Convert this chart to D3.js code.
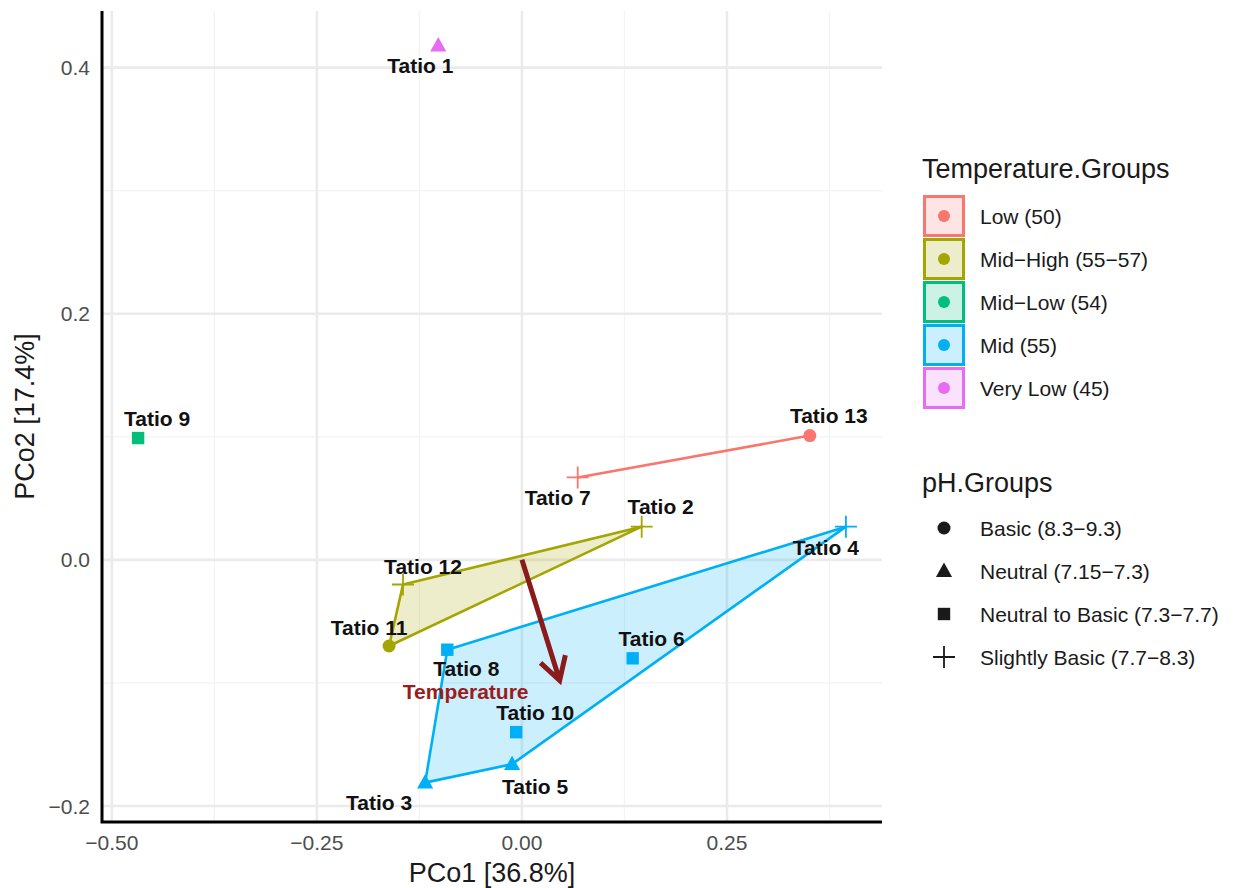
<!DOCTYPE html>
<html>
<head>
<meta charset="utf-8">
<script src="https://cdn.jsdelivr.net/npm/d3@7"></script>
<style>
  body { margin: 0; background: #fff; }
  text { font-family: "Liberation Sans", Arial, sans-serif; }
</style>
</head>
<body>
<svg id="chart" width="1254" height="888"></svg>
<script>
// PCoA site scores
const sites = ["Tatio 1", "Tatio 9", "Tatio 13", "Tatio 7", "Tatio 2", "Tatio 4", "Tatio 12",
               "Tatio 11", "Tatio 8", "Tatio 6", "Tatio 10", "Tatio 5", "Tatio 3"];
const pco1 = [-0.102, -0.468, 0.351, 0.068, 0.146, 0.395, -0.145,
              -0.162, -0.091, 0.135, -0.007, -0.012, -0.118];
const pco2 = [0.418, 0.099, 0.101, 0.067, 0.027, 0.027, -0.020,
              -0.070, -0.073, -0.080, -0.140, -0.166, -0.181];
const tempGroup = ["Very Low (45)", "Mid−Low (54)", "Low (50)", "Low (50)", "Mid−High (55−57)", "Mid (55)",
                   "Mid−High (55−57)", "Mid−High (55−57)", "Mid (55)", "Mid (55)", "Mid (55)", "Mid (55)", "Mid (55)"];
const phGroup = ["Neutral (7.15−7.3)", "Neutral to Basic (7.3−7.7)", "Basic (8.3−9.3)", "Slightly Basic (7.7−8.3)",
                 "Slightly Basic (7.7−8.3)", "Slightly Basic (7.7−8.3)", "Slightly Basic (7.7−8.3)",
                 "Basic (8.3−9.3)", "Neutral to Basic (7.3−7.7)", "Neutral to Basic (7.3−7.7)",
                 "Neutral to Basic (7.3−7.7)", "Neutral (7.15−7.3)", "Neutral (7.15−7.3)"];

const tempLevels = ["Low (50)", "Mid−High (55−57)", "Mid−Low (54)", "Mid (55)", "Very Low (45)"];
const phLevels = ["Basic (8.3−9.3)", "Neutral (7.15−7.3)", "Neutral to Basic (7.3−7.7)", "Slightly Basic (7.7−8.3)"];

// fitted environmental vector
const vectorNames = ["Temperature"];
const vectorX = [0.046];
const vectorY = [-0.098];

const xTicks = [-0.5, -0.25, 0, 0.25];
const yTicks = [-0.2, 0, 0.2, 0.4];
const xTitle = "PCo1 [36.8%]";
const yTitle = "PCo2 [17.4%]";

// label placement (repelled offsets, px)
const labelDx = [-18, 19, 19, -20, 19, -20, 20, -20, 19, 19, 19, 23, -46];
const labelDy = [20, -20, -20, 20, -20, 21, -18, -19, 18.5, -20, -20, 22, 20];

const palette = ["#F8766D", "#A3A500", "#00BF7D", "#00B0F6", "#E76BF3"];
const color = d3.scaleOrdinal().domain(tempLevels).range(palette);
const shapeOf = d3.scaleOrdinal().domain(phLevels).range(["circle", "triangle", "square", "plus"]);

const svg = d3.select("#chart");
const panel = { left: 102, right: 882, top: 11, bottom: 822 };
const x = d3.scaleLinear().domain([-0.512, 0.439]).range([panel.left, panel.right]);
const y = d3.scaleLinear().domain([-0.213, 0.446]).range([panel.bottom, panel.top]);

const fmtX = v => d3.format(".2f")(v).replace("-", "−");
const fmtY = v => d3.format(".1f")(v).replace("-", "−");

// grid
const g = svg.append("g");
const minorX = xTicks.map(t => t + 0.125).concat([xTicks[0] - 0.125]).filter(v => v > x.domain()[0] && v < x.domain()[1]);
const minorY = yTicks.map(t => t + 0.1).filter(v => v > y.domain()[0] && v < y.domain()[1]);
g.selectAll(".mx").data(minorX).join("line")
  .attr("x1", d => x(d)).attr("x2", d => x(d)).attr("y1", panel.top).attr("y2", panel.bottom)
  .attr("stroke", "#F3F3F3").attr("stroke-width", 1.3);
g.selectAll(".my").data(minorY).join("line")
  .attr("y1", d => y(d)).attr("y2", d => y(d)).attr("x1", panel.left).attr("x2", panel.right)
  .attr("stroke", "#F3F3F3").attr("stroke-width", 1.3);
g.selectAll(".Mx").data(xTicks).join("line")
  .attr("x1", d => x(d)).attr("x2", d => x(d)).attr("y1", panel.top).attr("y2", panel.bottom)
  .attr("stroke", "#EBEBEB").attr("stroke-width", 2.6);
g.selectAll(".My").data(yTicks).join("line")
  .attr("y1", d => y(d)).attr("y2", d => y(d)).attr("x1", panel.left).attr("x2", panel.right)
  .attr("stroke", "#EBEBEB").attr("stroke-width", 2.6);

// tick labels
svg.append("g").selectAll("text").data(xTicks).join("text")
  .attr("x", d => x(d)).attr("y", 850).attr("text-anchor", "middle")
  .attr("font-size", 21).attr("fill", "#4D4D4D").text(fmtX);
svg.append("g").selectAll("text").data(yTicks).join("text")
  .attr("x", 90).attr("y", d => y(d) + 7.5).attr("text-anchor", "end")
  .attr("font-size", 21).attr("fill", "#4D4D4D").text(fmtY);

// axis titles
svg.append("text").attr("x", (panel.left + panel.right) / 2).attr("y", 882)
  .attr("text-anchor", "middle").attr("font-size", 27).attr("fill", "#1a1a1a").text(xTitle);
svg.append("text").attr("transform", `translate(34,${(panel.top + panel.bottom) / 2}) rotate(-90)`)
  .attr("text-anchor", "middle").attr("font-size", 27).attr("fill", "#1a1a1a").text(yTitle);

// data records
const pts = sites.map((s, i) => ({
  name: s, x: pco1[i], y: pco2[i], temp: tempGroup[i], ph: phGroup[i],
  dx: labelDx[i], dy: labelDy[i]
}));

// group hulls
const hullG = svg.append("g");
tempLevels.forEach(level => {
  const ps = pts.filter(p => p.temp === level).map(p => [x(p.x), y(p.y)]);
  if (ps.length >= 3) {
    const hull = d3.polygonHull(ps);
    hullG.append("path").attr("d", "M" + hull.join("L") + "Z")
      .attr("fill", color(level)).attr("fill-opacity", 0.2)
      .attr("stroke", color(level)).attr("stroke-width", 2.6).attr("stroke-linejoin", "round");
  } else if (ps.length === 2) {
    hullG.append("path").attr("d", "M" + ps.join("L"))
      .attr("fill", "none").attr("stroke", color(level)).attr("stroke-width", 2.6);
  }
});

// symbol drawing
function drawShape(sel, shape, cx, cy, fill, scale = 1) {
  if (shape === "circle") {
    sel.append("circle").attr("cx", cx).attr("cy", cy).attr("r", 6.5 * scale).attr("fill", fill);
  } else if (shape === "triangle") {
    const s = 8.5 * scale;
    sel.append("path").attr("d", `M${cx},${cy - s}L${cx + s * 0.95},${cy + s * 0.7}L${cx - s * 0.95},${cy + s * 0.7}Z`)
      .attr("fill", fill);
  } else if (shape === "square") {
    const s = 6.2 * scale;
    sel.append("rect").attr("x", cx - s).attr("y", cy - s).attr("width", 2 * s).attr("height", 2 * s).attr("fill", fill);
  } else {
    const s = 11 * scale;
    sel.append("path").attr("d", `M${cx - s},${cy}H${cx + s}M${cx},${cy - s}V${cy + s}`)
      .attr("stroke", fill).attr("stroke-width", 1.8).attr("fill", "none");
  }
}

// points
const ptG = svg.append("g");
pts.forEach(p => drawShape(ptG, shapeOf(p.ph), x(p.x), y(p.y), color(p.temp)));

// environmental vector
const vecG = svg.append("g");
vectorNames.forEach((name, i) => {
  const x0 = x(0), y0 = y(0), x1 = x(vectorX[i]), y1 = y(vectorY[i]);
  const ang = Math.atan2(y1 - y0, x1 - x0);
  const head = 26, spread = Math.PI / 6;
  vecG.append("path")
    .attr("d", `M${x0},${y0}L${x1},${y1}` +
      `M${x1 - head * Math.cos(ang - spread)},${y1 - head * Math.sin(ang - spread)}L${x1},${y1}` +
      `L${x1 - head * Math.cos(ang + spread)},${y1 - head * Math.sin(ang + spread)}`)
    .attr("stroke", "#8B1A1A").attr("stroke-width", 5).attr("fill", "none")
    .attr("stroke-linecap", "butt").attr("stroke-linejoin", "miter");
  vecG.append("text").attr("x", x1 - 94).attr("y", y1 + 18.5)
    .attr("text-anchor", "middle").attr("font-size", 21).attr("font-weight", "bold")
    .attr("fill", "#9B1C1C").text(name);
});

// site labels
svg.append("g").selectAll("text").data(pts).join("text")
  .attr("x", d => x(d.x) + d.dx).attr("y", d => y(d.y) + d.dy + 7.5)
  .attr("text-anchor", "middle").attr("font-size", 21).attr("font-weight", "bold")
  .attr("fill", "#111").text(d => d.name);

// axis lines
svg.append("path").attr("d", `M${panel.left},${panel.top}V${panel.bottom}H${panel.right}`)
  .attr("stroke", "#000").attr("stroke-width", 3).attr("fill", "none");

// legends
const lg = svg.append("g");
lg.append("text").attr("x", 922).attr("y", 178).attr("font-size", 27).attr("fill", "#1a1a1a").text("Temperature.Groups");
tempLevels.forEach((lvl, i) => {
  const cy = 216 + i * 43;
  lg.append("rect").attr("x", 924.5).attr("y", cy - 19.5).attr("width", 39).attr("height", 39)
    .attr("fill", color(lvl)).attr("fill-opacity", 0.2).attr("stroke", color(lvl)).attr("stroke-width", 3);
  lg.append("circle").attr("cx", 944).attr("cy", cy).attr("r", 6).attr("fill", color(lvl));
  lg.append("text").attr("x", 980).attr("y", cy + 7.5).attr("font-size", 21).attr("fill", "#1a1a1a").text(lvl);
});
lg.append("text").attr("x", 922).attr("y", 492).attr("font-size", 27).attr("fill", "#1a1a1a").text("pH.Groups");
phLevels.forEach((lvl, i) => {
  const cy = 528 + i * 43;
  drawShape(lg, shapeOf(lvl), 944, cy, "#1a1a1a", 1);
  lg.append("text").attr("x", 980).attr("y", cy + 7.5).attr("font-size", 21).attr("fill", "#1a1a1a").text(lvl);
});
</script>
</body>
</html>
